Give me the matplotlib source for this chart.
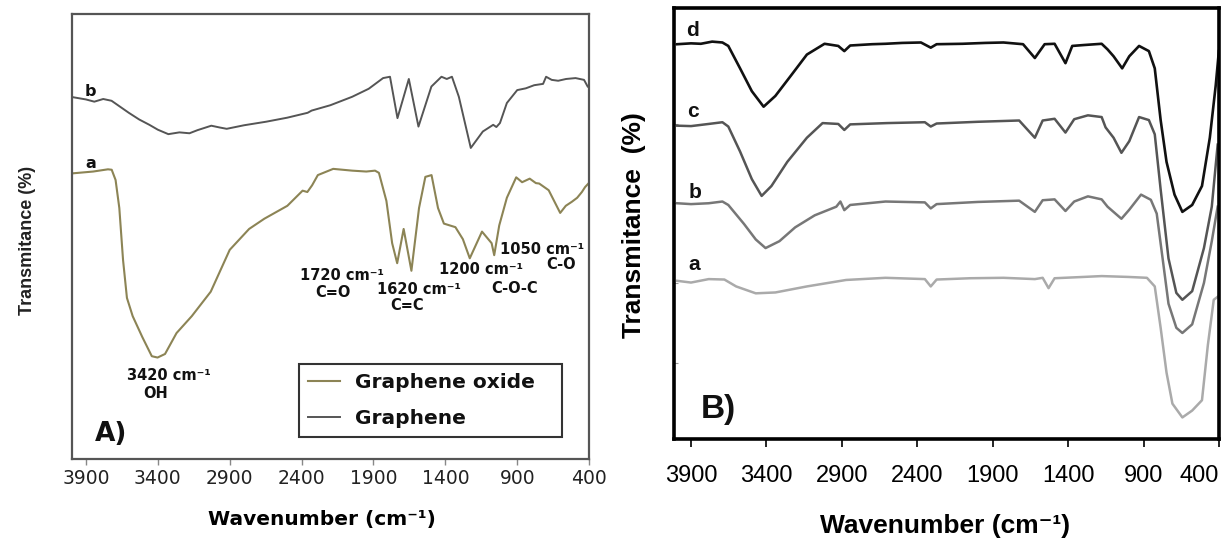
import matplotlib
matplotlib.use("Agg")
import matplotlib.pyplot as plt

# ---- panel A: graphene oxide (a) and graphene (b), wavenumber vs transmittance
go_wn = [3990, 3850, 3747, 3721, 3694, 3668, 3642, 3615, 3575, 3508, 3442, 3402,
         3350, 3270, 3164, 3032, 2900, 2765, 2659, 2499, 2393, 2360, 2327, 2287,
         2180, 2048, 1950, 1889, 1862, 1810, 1770, 1735, 1690, 1636, 1583, 1539,
         1496, 1451, 1410, 1330, 1278, 1230, 1145, 1078, 1060, 1025, 972, 907,
         866, 813, 770, 747, 681, 601, 562, 520, 483, 450, 428, 405]
go_t = [64.2, 64.6, 65.1, 65.0, 62.7, 56.4, 44.7, 36.2, 32.1, 27.4, 23.1, 22.8,
        23.6, 28.3, 32.1, 37.6, 47.0, 51.7, 54.0, 56.9, 60.3, 60.0, 61.5, 63.8,
        65.2, 64.8, 64.6, 64.8, 64.3, 58.0, 48.5, 44.0, 51.7, 42.3, 56.4, 63.4,
        63.8, 56.4, 52.9, 52.1, 49.4, 45.1, 51.1, 48.5, 45.8, 52.5, 58.7, 63.3,
        62.2, 63.0, 62.0, 61.9, 60.4, 55.3, 56.9, 57.8, 58.7, 60.0, 61.1, 61.9]

gr_wn = [3990, 3900, 3842, 3780, 3722, 3602, 3530, 3459, 3400, 3327, 3250, 3180,
         3124, 3028, 2970, 2921, 2800, 2646, 2500, 2358, 2330, 2200, 2048, 1933,
         1833, 1785, 1733, 1654, 1587, 1497, 1427, 1390, 1354, 1306, 1223, 1139,
         1067, 1045, 1020, 972, 900, 840, 782, 720, 699, 660, 615, 560, 494, 435, 410]
gr_t = [81.3, 80.8, 80.3, 80.9, 80.5, 77.8, 76.3, 75.1, 74.0, 73.0, 73.4, 73.2,
        73.9, 74.9, 74.5, 74.2, 75.0, 75.8, 76.7, 77.8, 78.3, 79.5, 81.4, 83.2,
        85.6, 85.9, 76.6, 85.4, 74.7, 83.7, 85.9, 85.4, 85.9, 81.4, 69.9, 73.6,
        75.1, 74.6, 75.5, 80.0, 82.9, 83.3, 84.0, 84.3, 85.9, 85.2, 85.0, 85.4, 85.6, 85.2, 83.7]

peak_nums = ["3420 cm⁻¹", "1720 cm⁻¹", "1620 cm⁻¹", "1200 cm⁻¹", "1050 cm⁻¹"]
peak_groups = ["OH", "C=O", "C=C", "C-O-C", "C-O"]

# ---- panel B: four stacked spectra a-d
b_wn_d = [3992, 3900, 3835, 3760, 3692, 3653, 3575, 3497, 3419, 3341, 3236, 3132,
          3015, 2924, 2884, 2845, 2700, 2611, 2500, 2376, 2311, 2272, 2100, 1950,
          1829, 1699, 1621, 1556, 1490, 1418, 1373, 1300, 1178, 1139, 1099, 1042,
          995, 930, 865, 826, 787, 748, 695, 643, 578, 513, 461, 422, 401]
b_t_d = [91.6, 91.8, 91.7, 92.2, 92.0, 91.2, 86.0, 80.7, 77.1, 79.6, 84.4, 89.2,
         91.7, 91.2, 90.0, 91.3, 91.6, 91.7, 91.9, 92.0, 90.8, 91.6, 91.7, 91.9,
         92.0, 91.6, 88.4, 91.6, 91.7, 87.2, 91.2, 91.4, 91.7, 90.4, 88.8, 86.0,
         88.8, 91.2, 90.0, 86.0, 74.0, 64.3, 56.7, 52.7, 54.3, 58.7, 69.9, 82.0, 90.0]

b_wn_c = [3992, 3900, 3783, 3692, 3653, 3575, 3497, 3432, 3367, 3262, 3132, 3028,
          2924, 2884, 2845, 2600, 2350, 2311, 2272, 2000, 1725, 1621, 1569, 1490,
          1418, 1360, 1269, 1178, 1152, 1099, 1047, 995, 930, 865, 826, 787, 735,
          683, 643, 578, 500, 448, 409]
b_t_c = [72.7, 72.6, 73.1, 73.5, 72.5, 66.7, 60.3, 56.4, 58.7, 64.3, 69.9, 73.3,
         73.1, 71.7, 73.0, 73.3, 73.5, 72.5, 73.2, 73.6, 73.9, 69.9, 73.9, 74.3,
         71.1, 74.2, 75.1, 74.7, 72.3, 69.9, 66.4, 69.1, 74.7, 74.0, 70.7, 57.9, 41.9,
         33.9, 32.3, 34.3, 44.3, 53.9, 68.3]

b_wn_b = [3992, 3900, 3783, 3692, 3653, 3549, 3471, 3406, 3314, 3210, 3080, 2937,
          2910, 2884, 2845, 2611, 2350, 2311, 2272, 2000, 1725, 1621, 1569, 1490,
          1418, 1360, 1269, 1178, 1139, 1047, 995, 917, 852, 813, 774, 735, 683,
          643, 578, 500, 448, 409]
b_t_b = [54.7, 54.5, 54.7, 55.1, 54.3, 49.9, 46.3, 44.3, 45.9, 49.1, 51.9, 53.9,
         55.1, 53.1, 54.3, 55.1, 54.9, 53.5, 54.5, 55.0, 55.3, 52.7, 55.4, 55.6,
         52.9, 55.1, 56.3, 55.6, 53.9, 51.1, 53.2, 56.7, 55.5, 52.3, 41.9, 31.4,
         25.8, 24.6, 26.6, 36.2, 45.9, 53.9]

b_wn_a = [3992, 3900, 3783, 3679, 3601, 3471, 3341, 3132, 2872, 2611, 2350, 2311,
          2272, 2050, 1829, 1621, 1569, 1530, 1490, 1300, 1178, 1000, 878, 826,
          787, 748, 709, 643, 578, 513, 474, 435, 409]
b_t_a = [36.7, 36.3, 37.1, 37.0, 35.4, 33.8, 34.0, 35.4, 36.9, 37.4, 37.1, 35.4,
         37.0, 37.3, 37.4, 37.1, 37.4, 35.0, 37.3, 37.6, 37.8, 37.6, 37.4, 35.4,
         25.8, 15.4, 8.2, 5.0, 6.6, 9.0, 21.8, 32.3, 33.0]

ticks = [3900, 3400, 2900, 2400, 1900, 1400, 900, 400]

fig = plt.figure(figsize=(12.27, 5.45), dpi=100)

# ------------------------------------------------------------- panel A
axA = fig.add_axes([0.0587, 0.1578, 0.4214, 0.8165])
axA.plot(go_wn, go_t, color="#8c8455", lw=1.5, label="Graphene oxide")
axA.plot(gr_wn, gr_t, color="#555555", lw=1.4, label="Graphene")
axA.set_xlim(3997, 400)
axA.set_ylim(0, 100)
axA.set_yticks([])
axA.set_xticks(ticks)
axA.tick_params(axis="x", direction="out", length=4, width=1, color="#888888",
                pad=3, labelsize=13.5, labelcolor="#222222")
for s in axA.spines.values():
    s.set_color("#555555")
    s.set_linewidth(1.6)

bold = dict(fontweight="bold", color="#111111")
axA.text(3872, 82.5, "b", fontsize=11.5, ha="center", va="center", **bold)
axA.text(3865, 66.5, "a", fontsize=11.5, ha="center", va="center", **bold)
num_pos = [(3324, 18.7), (2122, 41.3), (1581, 38.0), (1150, 42.5), (726, 47.0)]
grp_pos = [(3414, 14.8), (2185, 37.5), (1664, 34.6), (921, 38.4), (594, 43.6)]
for (x, y), txt in zip(num_pos, peak_nums):
    axA.text(x, y, txt, fontsize=10.5, ha="center", va="center", **bold)
for (x, y), txt in zip(grp_pos, peak_groups):
    axA.text(x, y, txt, fontsize=10.5, ha="center", va="center", **bold)
axA.text(0.075, 0.056, "A)", transform=axA.transAxes, fontsize=19,
         ha="center", va="center", **bold)

axA.set_xlabel("Wavenumber (cm⁻¹)", fontsize=14.5, fontweight="bold")
axA.xaxis.set_label_coords(0.483, -0.135)
axA.xaxis.label.set_va("center")
axA.set_ylabel("Transmitance (%)", fontsize=13, fontweight="bold", color="#222222",
               family=["Liberation Sans Narrow", "Liberation Sans", "DejaVu Sans"])
axA.yaxis.set_label_coords(-0.087, 0.492)
axA.yaxis.label.set_va("center")

leg = axA.legend(loc="lower left", bbox_to_anchor=(0.439, 0.049, 0.509, 0.178),
                 mode="expand", fancybox=False, edgecolor="black",
                 prop=dict(weight="bold", size=14.5), handlelength=1.6,
                 handletextpad=0.75, labelspacing=0.85, borderpad=0.45,
                 borderaxespad=0)
leg.get_frame().set_linewidth(1.5)
for t in leg.get_texts():
    t.set_color("#111111")

# ------------------------------------------------------------- panel B
fam = ["Liberation Sans", "DejaVu Sans"]
axB = fig.add_axes([0.5493, 0.1945, 0.4442, 0.7908])
axB.plot(b_wn_a, b_t_a, color="#aaaaaa", lw=1.8)
axB.plot(b_wn_b, b_t_b, color="#777777", lw=1.8)
axB.plot(b_wn_c, b_t_c, color="#555555", lw=1.8)
axB.plot(b_wn_d, b_t_d, color="#111111", lw=1.9)
axB.set_xlim(4013, 400)
axB.set_ylim(0, 100)
axB.set_xticks(ticks)
axB.set_yticks([17.7, 36.2, 54.7, 73.2, 91.7])
axB.tick_params(axis="y", direction="in", length=3, color="#999999", labelleft=False)
axB.tick_params(axis="x", direction="out", length=6, width=1.2, pad=13, labelsize=17)
for lab in axB.get_xticklabels():
    lab.set_family(fam)
axB.get_xticklabels()[-1].set_ha("right")
for s in axB.spines.values():
    s.set_color("black")
    s.set_linewidth(2.6)

for x, y, t in [(3887, 94.8, "d"), (3887, 75.9, "c"), (3873, 57.3, "b"), (3880, 40.4, "a")]:
    axB.text(x, y, t, fontsize=15, ha="center", va="center", family=fam, **bold)
axB.text(0.081, 0.069, "B)", transform=axB.transAxes, fontsize=24,
         ha="center", va="center", family=fam, **bold)

axB.set_xlabel("Wavenumber (cm⁻¹)", fontsize=19, fontweight="bold", family=fam)
axB.xaxis.set_label_coords(0.497, -0.202)
axB.xaxis.label.set_va("center")
axB.set_ylabel("Transmitance  (%)", fontsize=19, fontweight="bold", family=fam)
axB.yaxis.set_label_coords(-0.073, 0.497)
axB.yaxis.label.set_va("center")

fig.savefig("out.png", dpi=100)
